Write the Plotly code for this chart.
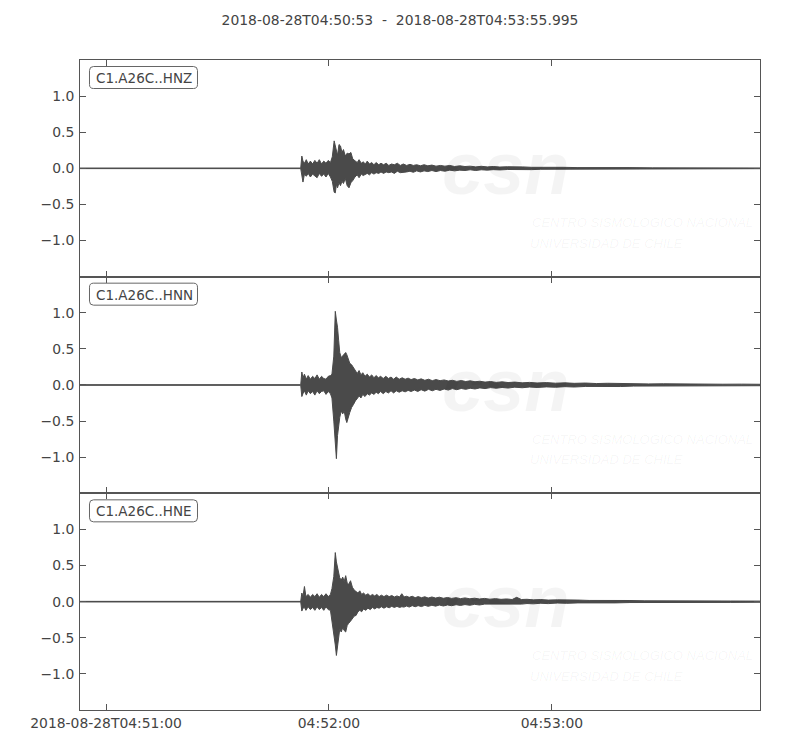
import pandas as pd
import plotly.graph_objects as go
from plotly.subplots import make_subplots

# ---------------- data (seconds after 2018-08-28T04:50:53, envelope max/min) ----------------
START = "2018-08-28 04:50:53"
END = "2018-08-28 04:53:55.995"
TITLE = "2018-08-28T04:50:53  -  2018-08-28T04:53:55.995"
CHANNELS = ["C1.A26C..HNZ", "C1.A26C..HNN", "C1.A26C..HNE"]

T_HNZ = [0, 59.4, 59.7, 60.0, 60.4, 60.9, 61.4, 62.0, 62.6, 63.2, 63.8, 64.4, 65.0, 65.6, 66.2, 66.8, 67.4,
         67.9, 68.4, 68.7, 69.0, 69.3, 69.7, 70.1, 70.5, 70.9, 71.4, 71.9, 72.4, 72.9, 73.4,
         74.0, 74.6, 75.1, 75.7, 76.2, 76.8, 77.3, 77.9, 78.5, 79.1, 79.7, 80.4, 81.0, 81.7, 82.4, 83.1,
         83.8, 84.6, 85.4, 86.2, 87.0, 87.9, 88.8, 89.7, 90.6, 91.6, 92.6, 93.6, 94.7, 95.8, 97.0, 98.2,
         99.5, 100.8, 102.2, 103.6, 105.0, 106.5, 108, 109.6, 111.2, 113, 115, 117, 119, 121.5, 124, 127,
         130, 134, 138, 143, 148, 154, 160, 167, 175, 183]
UP_HNZ = [0.004, 0.004, 0.17, 0.10, 0.07, 0.12, 0.06, 0.10, 0.06, 0.11, 0.07, 0.12, 0.06, 0.10, 0.07, 0.11, 0.08,
          0.16, 0.38, 0.30, 0.26, 0.18, 0.33, 0.31, 0.22, 0.26, 0.17, 0.21, 0.20, 0.22, 0.13,
          0.11, 0.08, 0.12, 0.07, 0.09, 0.06, 0.10, 0.06, 0.08, 0.05, 0.08, 0.05, 0.07, 0.05, 0.07, 0.04,
          0.06, 0.05, 0.07, 0.04, 0.06, 0.04, 0.055, 0.04, 0.05, 0.035, 0.05, 0.035, 0.045, 0.03, 0.04, 0.03,
          0.04, 0.025, 0.035, 0.025, 0.03, 0.02, 0.028, 0.02, 0.025, 0.018, 0.022, 0.016, 0.02, 0.014, 0.017, 0.012,
          0.014, 0.01, 0.012, 0.009, 0.01, 0.007, 0.008, 0.006, 0.006, 0.005]
LO_HNZ = [-0.004, -0.004, -0.12, -0.19, -0.08, -0.11, -0.07, -0.12, -0.08, -0.10, -0.13, -0.07, -0.11, -0.08, -0.12, -0.07, -0.12,
          -0.18, -0.33, -0.34, -0.22, -0.27, -0.20, -0.24, -0.18, -0.21, -0.14, -0.24, -0.27, -0.20, -0.17,
          -0.12, -0.09, -0.13, -0.08, -0.10, -0.08, -0.07, -0.09, -0.06, -0.08, -0.06, -0.07, -0.05, -0.07, -0.05, -0.06,
          -0.05, -0.07, -0.04, -0.06, -0.05, -0.05, -0.04, -0.055, -0.035, -0.05, -0.035, -0.045, -0.03, -0.045, -0.03, -0.04,
          -0.025, -0.035, -0.025, -0.03, -0.02, -0.03, -0.02, -0.025, -0.018, -0.022, -0.016, -0.02, -0.014, -0.018, -0.013, -0.015,
          -0.011, -0.012, -0.009, -0.01, -0.008, -0.008, -0.006, -0.007, -0.005, -0.005]

T_HNN = [0, 59.4, 59.7, 60.0, 60.4, 60.9, 61.4, 62.0, 62.6, 63.2, 63.8, 64.4, 65.0, 65.6, 66.2, 66.8, 67.4,
         67.8, 68.3, 68.7, 69.0, 69.3, 69.6, 69.9, 70.3, 70.7, 71.1, 71.5, 71.8, 72.2, 72.6, 73.1, 73.6,
         74.1, 74.6, 75.1, 75.6, 76.1, 76.7, 77.3, 77.9, 78.5, 79.1, 79.7, 80.3, 80.9, 81.6, 82.3, 83.0,
         83.7, 84.4, 85.1, 85.9, 86.7, 87.5, 88.3, 89.1, 90.0, 90.9, 91.8, 92.8, 93.8, 94.8, 95.8, 96.9,
         98.0, 99.1, 100.2, 101.4, 102.6, 103.8, 105, 106.3, 107.6, 109, 110.5, 112, 113.6, 115.2, 117, 119,
         121, 123, 125.5, 128, 130.5, 133, 136, 139, 142, 145.5, 149, 153, 157, 162, 167, 173, 178, 183]
UP_HNN = [0.004, 0.004, 0.18, 0.10, 0.15, 0.08, 0.13, 0.08, 0.12, 0.09, 0.14, 0.08, 0.12, 0.09, 0.08, 0.12, 0.13,
          0.15, 0.40, 1.02, 0.90, 0.80, 0.62, 0.45, 0.38, 0.40, 0.42, 0.45, 0.42, 0.36, 0.30, 0.28, 0.24,
          0.21, 0.16, 0.20, 0.14, 0.17, 0.12, 0.15, 0.11, 0.14, 0.10, 0.13, 0.10, 0.12, 0.09, 0.12, 0.09,
          0.11, 0.08, 0.11, 0.08, 0.10, 0.08, 0.095, 0.075, 0.09, 0.07, 0.085, 0.065, 0.08, 0.06, 0.075, 0.06,
          0.07, 0.055, 0.065, 0.05, 0.062, 0.048, 0.058, 0.045, 0.052, 0.04, 0.048, 0.036, 0.044, 0.034, 0.04, 0.03,
          0.036, 0.028, 0.033, 0.025, 0.03, 0.023, 0.027, 0.02, 0.024, 0.018, 0.02, 0.015, 0.017, 0.013, 0.014, 0.011, 0.012, 0.01]
LO_HNN = [-0.004, -0.004, -0.16, -0.12, -0.08, -0.14, -0.08, -0.12, -0.09, -0.14, -0.08, -0.12, -0.09, -0.08, -0.13, -0.09, -0.12,
          -0.18, -0.50, -0.75, -1.02, -0.70, -0.62, -0.45, -0.36, -0.40, -0.36, -0.47, -0.52, -0.44, -0.38, -0.31, -0.27,
          -0.22, -0.19, -0.15, -0.18, -0.13, -0.16, -0.12, -0.14, -0.11, -0.13, -0.10, -0.12, -0.09, -0.12, -0.09, -0.11,
          -0.08, -0.11, -0.08, -0.10, -0.08, -0.095, -0.075, -0.09, -0.07, -0.09, -0.065, -0.085, -0.06, -0.08, -0.06, -0.075,
          -0.055, -0.07, -0.05, -0.065, -0.048, -0.06, -0.045, -0.055, -0.04, -0.05, -0.036, -0.045, -0.034, -0.042, -0.03, -0.038,
          -0.028, -0.034, -0.026, -0.031, -0.023, -0.028, -0.02, -0.025, -0.018, -0.021, -0.015, -0.018, -0.013, -0.015, -0.011, -0.012, -0.01, -0.01]

T_HNE = [0, 59.4, 59.7, 60.0, 60.4, 60.8, 61.4, 62.0, 62.6, 63.2, 63.8, 64.4, 65.0, 65.6, 66.2, 66.8, 67.4,
         67.8, 68.3, 68.7, 69.0, 69.3, 69.6, 69.9, 70.3, 70.7, 71.1, 71.5, 71.9, 72.3, 72.8, 73.3, 73.8,
         74.3, 74.8, 75.3, 75.8, 76.3, 76.9, 77.5, 78.1, 78.7, 79.3, 79.9, 80.5, 81.1, 81.8, 82.5, 83.2,
         83.9, 84.6, 85.3, 86.0, 86.6, 87.2, 87.9, 88.6, 89.4, 90.2, 91.0, 91.9, 92.8, 93.7, 94.7, 95.7,
         96.7, 97.8, 98.9, 100, 101.2, 102.4, 103.6, 104.9, 106.2, 107.5, 108.9, 110.3, 111.8, 113.3, 114.8, 116.3,
         117.5, 118.8, 120.3, 122, 124, 126, 128.5, 131, 134, 137, 140.5, 144, 148, 152, 157, 162, 168, 175, 183]
UP_HNE = [0.004, 0.004, 0.12, 0.07, 0.21, 0.07, 0.10, 0.06, 0.10, 0.07, 0.11, 0.06, 0.10, 0.07, 0.11, 0.07, 0.10,
          0.18, 0.35, 0.68, 0.55, 0.47, 0.40, 0.33, 0.30, 0.34, 0.28, 0.36, 0.26, 0.24, 0.29, 0.20, 0.16,
          0.14, 0.12, 0.15, 0.10, 0.12, 0.09, 0.11, 0.08, 0.10, 0.08, 0.10, 0.07, 0.09, 0.07, 0.09, 0.07,
          0.085, 0.065, 0.08, 0.065, 0.11, 0.065, 0.075, 0.06, 0.075, 0.055, 0.07, 0.055, 0.068, 0.05, 0.065, 0.05,
          0.062, 0.047, 0.058, 0.045, 0.055, 0.042, 0.052, 0.04, 0.048, 0.037, 0.045, 0.034, 0.042, 0.032, 0.038, 0.03,
          0.06, 0.03, 0.033, 0.025, 0.029, 0.022, 0.025, 0.019, 0.022, 0.017, 0.019, 0.014, 0.016, 0.012, 0.013, 0.01, 0.011, 0.009, 0.008]
LO_HNE = [-0.004, -0.004, -0.13, -0.09, -0.08, -0.12, -0.07, -0.11, -0.08, -0.12, -0.07, -0.11, -0.08, -0.12, -0.07, -0.11, -0.12,
          -0.20, -0.45, -0.60, -0.745, -0.55, -0.50, -0.38, -0.42, -0.36, -0.40, -0.42, -0.33, -0.30, -0.27, -0.24, -0.20,
          -0.19, -0.14, -0.12, -0.14, -0.10, -0.12, -0.09, -0.11, -0.08, -0.10, -0.08, -0.09, -0.07, -0.09, -0.07, -0.085,
          -0.065, -0.08, -0.065, -0.08, -0.07, -0.075, -0.06, -0.075, -0.055, -0.07, -0.055, -0.068, -0.05, -0.065, -0.05, -0.062,
          -0.047, -0.06, -0.045, -0.056, -0.042, -0.052, -0.04, -0.05, -0.037, -0.046, -0.034, -0.042, -0.032, -0.04, -0.03, -0.036,
          -0.035, -0.034, -0.026, -0.03, -0.022, -0.027, -0.019, -0.023, -0.017, -0.02, -0.014, -0.017, -0.012, -0.014, -0.01, -0.012, -0.009, -0.01, -0.008]

Y_TICKS = [-1.0, -0.5, 0.0, 0.5, 1.0]
X_TICKS = ["2018-08-28 04:51:00", "2018-08-28 04:52:00", "2018-08-28 04:53:00"]
X_TICKTEXT = ["2018-08-28T04:51:00", "04:52:00", "04:53:00"]

# ---------------- figure ----------------
W, H = 800, 750
ML, MR, MT, MB = 80, 40, 60, 40
PW, PH = W - ML - MR, H - MT - MB
WAVE = "#4a4a4a"
AXC = "#555555"
TXT = "#444444"
FONT = "DejaVu Sans"
FS = 13.9
WM = "rgba(0,0,0,0.045)"

start = pd.Timestamp(START)
series = [(T_HNZ, UP_HNZ, LO_HNZ), (T_HNN, UP_HNN, LO_HNN), (T_HNE, UP_HNE, LO_HNE)]

fig = make_subplots(rows=3, cols=1, shared_xaxes=True, vertical_spacing=0)

for i, (t, up, lo) in enumerate(series):
    times = list(start + pd.to_timedelta(t, unit="s"))
    xs = times + times[::-1]
    ys = list(up) + list(lo)[::-1]
    fig.add_trace(go.Scatter(x=xs, y=ys, mode="lines", fill="toself", fillcolor=WAVE,
                             line=dict(color=WAVE, width=1), hoverinfo="skip", showlegend=False),
                  row=i + 1, col=1)


def px2paper(px, py):
    return (px - ML) / PW, (H - MB - py) / PH


def rounded_rect(x0, y0, x1, y1, r=3):
    def p(x, y):
        a, b = px2paper(x, y)
        return f"{a:.5f},{b:.5f}"
    return (f"M {p(x0 + r, y0)} L {p(x1 - r, y0)} Q {p(x1, y0)} {p(x1, y0 + r)} "
            f"L {p(x1, y1 - r)} Q {p(x1, y1)} {p(x1 - r, y1)} L {p(x0 + r, y1)} "
            f"Q {p(x0, y1)} {p(x0, y1 - r)} L {p(x0, y0 + r)} Q {p(x0, y0)} {p(x0 + r, y0)} Z")


panel_h = PH / 3
shapes = []
annotations = []
for i, name in enumerate(CHANNELS):
    top = MT + i * panel_h
    yd = f"y{'' if i == 0 else i + 1} domain"
    xd = f"x{'' if i == 0 else i + 1} domain"
    # faint watermark logo text
    annotations.append(dict(x=0.627, y=0.50, xref=xd, yref=yd, text="<b><i>csn</i></b>", showarrow=False,
                            font=dict(family="Liberation Sans", size=74, color=WM),
                            xanchor="center", yanchor="middle"))
    annotations.append(dict(x=0.662, y=0.25, xref=xd, yref=yd, text="<i>CENTRO SISMOLÓGICO NACIONAL</i>",
                            showarrow=False, font=dict(family="Liberation Sans", size=13, color=WM),
                            xanchor="left", yanchor="middle"))
    annotations.append(dict(x=0.659, y=0.155, xref=xd, yref=yd, text="<i>UNIVERSIDAD DE CHILE</i>",
                            showarrow=False, font=dict(family="Liberation Sans", size=13, color=WM),
                            xanchor="left", yanchor="middle"))
    # station label box
    shapes.append(dict(type="path", xref="paper", yref="paper",
                       path=rounded_rect(89.5, top + 6.5, 197.5, top + 28.5, r=4),
                       line=dict(color="#666666", width=1), fillcolor="white", layer="above"))
    ax, ay = px2paper(94, top + 18)
    annotations.append(dict(x=ax, y=ay, xref="paper", yref="paper", text=name, showarrow=False,
                            xanchor="left", yanchor="middle",
                            font=dict(family=FONT, size=13.5, color=TXT)))

axis_common = dict(showline=True, linecolor=AXC, linewidth=1, mirror="allticks", ticks="inside",
                   ticklen=6, tickcolor=AXC, tickwidth=1, showgrid=False, zeroline=False,
                   tickfont=dict(family=FONT, size=FS, color=TXT))

for i in range(3):
    fig.update_yaxes(range=[-1.5, 1.5], tickvals=Y_TICKS, tickformat=".1f", ticklabelstandoff=2,
                     row=i + 1, col=1, **axis_common)
    fig.update_xaxes(type="date", range=[START, END], tickvals=X_TICKS, ticktext=X_TICKTEXT,
                     showticklabels=(i == 2), row=i + 1, col=1, **axis_common)

fig.update_layout(
    width=W, height=H,
    margin=dict(l=ML, r=MR, t=MT, b=MB),
    paper_bgcolor="white", plot_bgcolor="white",
    title=dict(text=TITLE, x=0.5, xanchor="center", y=1 - 20 / H, yanchor="middle",
               font=dict(family=FONT, size=FS, color=TXT)),
    shapes=shapes, annotations=annotations,
    font=dict(family=FONT, color=TXT),
)

fig.write_html("out.html", config={"displayModeBar": False},
               post_script="document.body.style.margin='0';")
